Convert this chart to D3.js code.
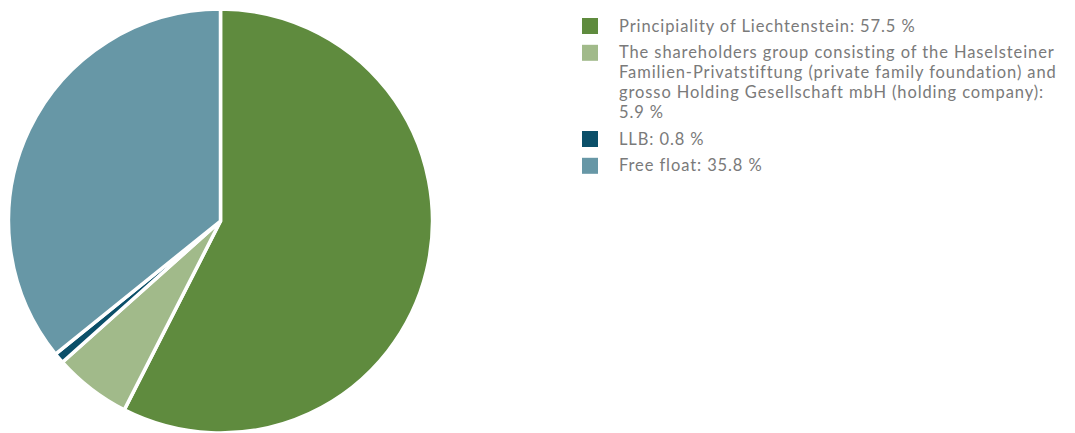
<!DOCTYPE html>
<html>
<head>
<meta charset="utf-8">
<script src="https://cdn.jsdelivr.net/npm/d3@7"></script>
<style>
  body { margin: 0; background: #fff; }
  text { font-family: Lato, "Open Sans", sans-serif; }
</style>
</head>
<body>
<script>
var categories = [
  ["Principiality of Liechtenstein: 57.5 %"],
  ["The shareholders group consisting of the Haselsteiner",
   "Familien-Privatstiftung (private family foundation) and",
   "grosso Holding Gesellschaft mbH (holding company):",
   "5.9 %"],
  ["LLB: 0.8 %"],
  ["Free float: 35.8 %"]
];
var shares = [57.5, 5.9, 0.8, 35.8];
var colors = ["#5f8b3e", "#a1ba8a", "#0b4f69", "#6797a6"];

var width = 1075, height = 433;
var cx = 220.5, cy = 221, radius = 212;

var svg = d3.select("body").append("svg")
  .attr("width", width)
  .attr("height", height);

var pie = d3.pie().sort(null).value(function(d) { return d; });
var arc = d3.arc().innerRadius(0).outerRadius(radius);

svg.append("g")
  .attr("transform", "translate(" + cx + "," + cy + ")")
  .selectAll("path")
  .data(pie(shares))
  .enter()
  .append("path")
  .attr("d", arc)
  .style("fill", function(d, i) { return colors[i]; })
  .style("stroke", "#fff")
  .style("stroke-width", 3.5)
  .style("stroke-linejoin", "miter");

// legend
var lineH = 19.8, gap = 7;
var legend = svg.append("g").attr("transform", "translate(582,18)");
var y = 0;
categories.forEach(function(lines, i) {
  var g = legend.append("g").attr("transform", "translate(0," + y + ")");
  g.append("rect")
    .attr("x", 0).attr("y", 0)
    .attr("width", 16).attr("height", 16)
    .style("fill", colors[i]);
  var t = g.append("text")
    .attr("x", 37).attr("y", 13.6)
    .style("font-size", "16.5px")
    .style("letter-spacing", "0.9px")
    .style("fill", "#7a7a7a");
  lines.forEach(function(l, j) {
    t.append("tspan").attr("x", 37).attr("y", 13.6 + j * lineH).text(l);
  });
  y += lines.length * lineH + gap;
});
</script>
</body>
</html>
